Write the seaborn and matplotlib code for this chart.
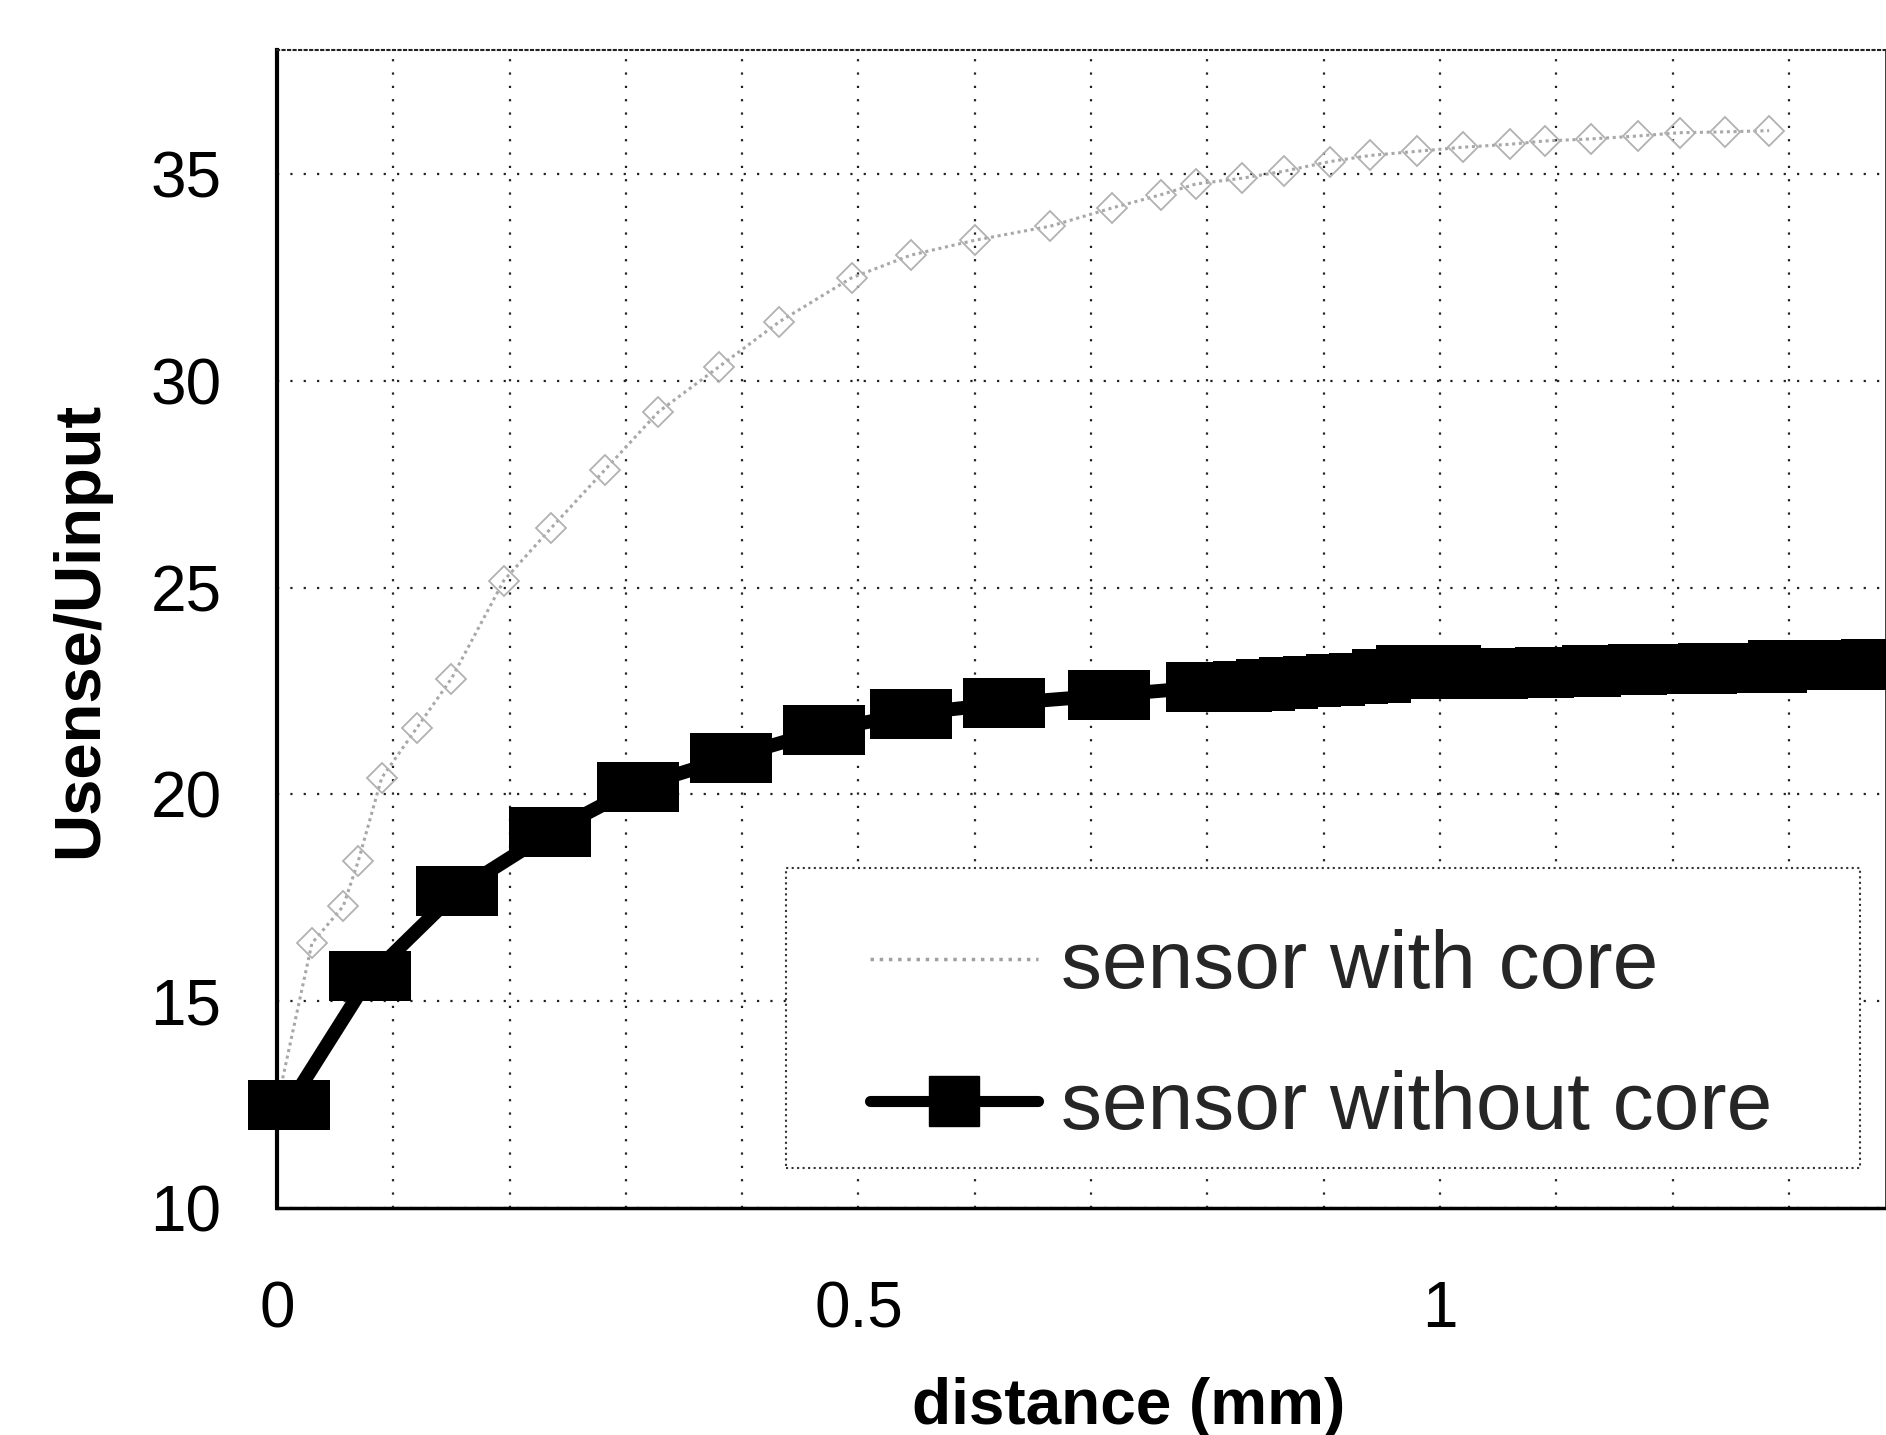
import matplotlib
matplotlib.use("Agg")
import matplotlib.pyplot as plt
import matplotlib.patches as mpatches
from matplotlib.lines import Line2D
import pandas as pd
import seaborn as sns

# sensor with core (grey trace)
core_x = [0.0, 0.03, 0.057, 0.07, 0.09, 0.12, 0.15, 0.195, 0.236, 0.282, 0.328,
          0.38, 0.432, 0.494, 0.545, 0.6, 0.665, 0.718, 0.76, 0.79, 0.83, 0.866,
          0.905, 0.94, 0.98, 1.02, 1.06, 1.09, 1.13, 1.17, 1.206, 1.245, 1.283]
core_y = [12.5, 16.4, 17.3, 18.4, 20.4, 21.6, 22.8, 25.17, 26.45, 27.85, 29.25,
          30.34, 31.43, 32.49, 33.04, 33.4, 33.74, 34.18, 34.5, 34.76, 34.9, 35.07,
          35.3, 35.45, 35.55, 35.65, 35.72, 35.8, 35.85, 35.92, 36.0, 36.02, 36.05]

# sensor without core (black squares)
nocore_x = [0.01, 0.08, 0.155, 0.235, 0.31, 0.39, 0.47, 0.545, 0.625, 0.715,
            0.80, 0.82, 0.84, 0.86, 0.88, 0.90, 0.92, 0.94, 0.96, 0.98, 1.00,
            1.02, 1.04, 1.06, 1.08, 1.10, 1.12, 1.14, 1.16, 1.18, 1.20, 1.22,
            1.24, 1.26, 1.28, 1.30, 1.32, 1.34, 1.36, 1.38, 1.40]
nocore_y = [12.48, 15.6, 17.66, 19.08, 20.19, 20.89, 21.55, 21.95, 22.2, 22.4,
            22.6, 22.6, 22.62, 22.68, 22.72, 22.75, 22.78, 22.82, 22.9, 23.0, 23.0,
            22.92, 22.92, 22.93, 22.94, 22.95, 22.96, 23.02, 23.02, 23.03, 23.03, 23.04,
            23.05, 23.05, 23.06, 23.12, 23.12, 23.13, 23.14, 23.15, 23.15]

x_ticks = [0, 0.5, 1]
x_tick_labels = ['0', '0.5', '1']
y_ticks = [10, 15, 20, 25, 30, 35]
x_grid = [0.1, 0.2, 0.3, 0.4, 0.6, 0.7, 0.8, 0.9, 1.1, 1.2, 1.3]
series_names = ['sensor with core', 'sensor without core']

sns.set_theme(style="white")
plt.rcParams['font.family'] = ['Liberation Sans', 'DejaVu Sans']

fig = plt.figure(figsize=(18.86, 14.35), dpi=100)
ax = fig.add_axes([0.14687, 0.15819, 0.85313, 0.80697])

core = pd.DataFrame({'distance': core_x, 'ratio': core_y})
nocore = pd.DataFrame({'distance': nocore_x, 'ratio': nocore_y})

sns.lineplot(data=core, x='distance', y='ratio', ax=ax, errorbar=None,
             color='#a8a8a8', linewidth=2.2, linestyle=(0, (1, 1.2)), marker='D',
             markersize=15, markerfacecolor='none', markeredgecolor='#b2b2b2',
             markeredgewidth=1.3, clip_on=False, zorder=3)

# wide flat squares like in the scan
rect_marker = [(-1, -0.61), (1, -0.61), (1, 0.61), (-1, 0.61), (-1, -0.61)]
sns.lineplot(data=nocore, x='distance', y='ratio', ax=ax, errorbar=None,
             color='black', linewidth=10, marker=rect_marker, markersize=59,
             markeredgecolor='black', markeredgewidth=0, clip_on=False, zorder=4)

ax.set_xlim(0, 1.3835)
ax.set_ylim(10, 38)
ax.set_xticks(x_ticks)
ax.set_xticklabels(x_tick_labels)
ax.set_xticks(x_grid, minor=True)
ax.set_yticks(y_ticks)
ax.grid(True, which='both', color='#222222', linestyle=(0, (1, 5)), linewidth=1.6)
ax.tick_params(axis='both', which='both', length=0, labelsize=44, colors='black')
ax.tick_params(axis='x', pad=52)
ax.tick_params(axis='y', pad=40)
for lab in ax.get_xticklabels() + ax.get_yticklabels():
    lab.set_family(['Liberation Sans Narrow', 'Liberation Sans', 'DejaVu Sans'])
    lab.set_fontsize(46)

for side in ['left', 'bottom']:
    ax.spines[side].set_color('black')
ax.spines['left'].set_linewidth(3)
ax.spines['bottom'].set_linewidth(2.5)
ax.spines['top'].set_color('#222222')
ax.spines['top'].set_linestyle(':')
ax.spines['top'].set_linewidth(1.5)

ax.set_xlabel('distance (mm)', fontsize=46, fontweight='bold', color='black')
ax.xaxis.set_label_coords(0.529, -0.146)
ax.set_ylabel('Usense/Uinput', fontsize=47, fontweight='bold', color='black')
ax.yaxis.set_label_coords(-0.104, 0.499)

# legend box with dotted border
box = mpatches.Rectangle((0.3163, 0.0345), 0.6675, 0.2591, transform=ax.transAxes,
                         facecolor='white', edgecolor='#333333', linestyle=':',
                         linewidth=1.5, zorder=4.5)
ax.add_patch(box)
handles = [Line2D([], [], color='#a0a0a0', linestyle=':', linewidth=2.5),
           Line2D([], [], color='black', linewidth=8, marker='s', markersize=36)]
leg = ax.legend(handles, series_names, loc='upper left', bbox_to_anchor=(0.3686, 0.241),
                frameon=False, fontsize=59, borderpad=0, borderaxespad=0,
                handlelength=2.05, handletextpad=0.28, labelspacing=0.8)
leg.set_zorder(6)

fig.savefig('out.png', dpi=100)
